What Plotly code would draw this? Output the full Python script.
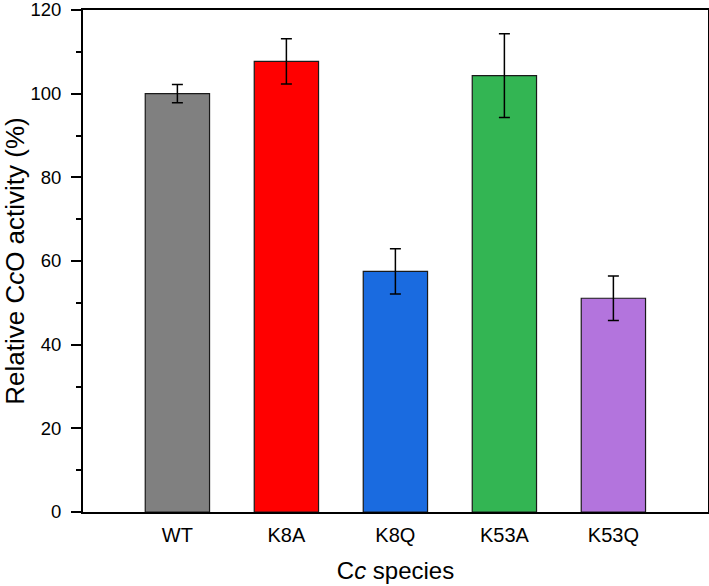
import plotly.graph_objects as go

categories = ["WT", "K8A", "K8Q", "K53A", "K53Q"]
values = [100.0, 107.7, 57.5, 104.3, 51.1]
errors = [2.2, 5.4, 5.4, 10.0, 5.3]
colors = ["#808080", "#FF0000", "#1A6BE0", "#33B553", "#B374DD"]
y_ticks = [0, 20, 40, 60, 80, 100, 120]

x_pos = list(range(len(categories)))

fig = go.Figure()
fig.add_trace(go.Bar(
    x=x_pos, y=values, width=0.59,
    marker=dict(color=colors, line=dict(color="#1a1a1a", width=1.2)),
    error_y=dict(type="data", array=errors, visible=True, color="black",
                 thickness=1.5, width=5.5),
    showlegend=False,
))

font_family = "Liberation Sans, Arial, sans-serif"
fig.update_layout(
    width=709, height=586,
    margin=dict(l=82.5, r=1.3, t=9.5, b=73.7, autoexpand=False),
    plot_bgcolor="white", paper_bgcolor="white",
    font=dict(family=font_family, color="black", size=19),
)
fig.update_xaxes(
    range=[-0.866, 4.868], automargin=False,
    tickmode="array", tickvals=x_pos, ticktext=categories,
    ticks="", showline=True, linecolor="black", linewidth=2, mirror=True,
    showgrid=False, zeroline=False,
    tickfont=dict(size=20), ticklabelstandoff=4,
    title=dict(text="C<i>c</i> species", font=dict(size=24), standoff=17),
)
fig.update_yaxes(
    range=[0, 120], automargin=False,
    tickmode="array", tickvals=y_ticks, ticklabeloverflow="allow",
    ticks="outside", ticklen=10, tickwidth=2, tickcolor="black",
    minor=dict(ticks="outside", ticklen=5, tickwidth=2, tickcolor="black",
               tickmode="linear", tick0=0, dtick=10),
    showline=True, linecolor="black", linewidth=2, mirror=True,
    showgrid=False, zeroline=False,
    tickfont=dict(size=18.5), ticklabelstandoff=6,
    title=dict(text="Relative C<i>c</i>O activity (%)", font=dict(size=26), standoff=10),
)

fig.write_html(
    "out.html",
    config={"displayModeBar": False},
    post_script="document.body.style.margin='0';document.body.style.overflow='hidden';",
)
